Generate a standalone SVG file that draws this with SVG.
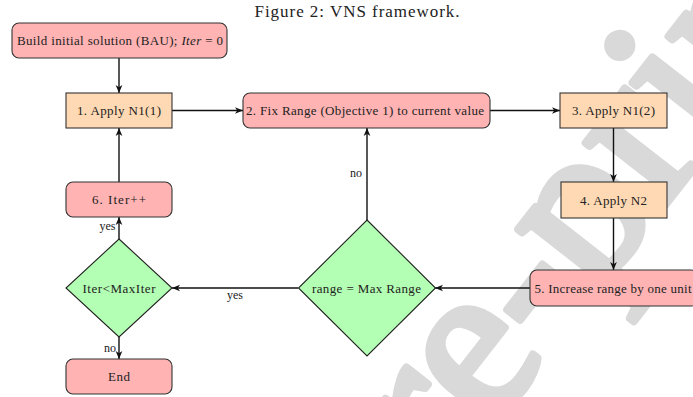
<svg xmlns="http://www.w3.org/2000/svg" width="693" height="397" viewBox="0 0 693 397">
<style>
.t{font-family:"Liberation Serif","Times New Roman",serif;fill:#222;text-anchor:middle}
.n{font-size:13px}
.lbl{font-family:"Liberation Serif","Times New Roman",serif;font-size:12px;fill:#222}
.red{fill:#ffb3b3;stroke:#333;stroke-width:1.1}
.org{fill:#ffd9b3;stroke:#333;stroke-width:1.1}
.grn{fill:#b3ffb3;stroke:#222;stroke-width:1.1}
.c{fill:none;stroke:#111;stroke-width:1.4;marker-end:url(#arr)}
.wm{font-family:"Liberation Serif","Times New Roman",serif;font-size:220px;fill:#d9d9d9;stroke:#d9d9d9;stroke-width:8;stroke-linejoin:round}
</style>
<defs>
<marker id="arr" viewBox="0 0 10 10" refX="10" refY="5" markerWidth="8" markerHeight="8" markerUnits="userSpaceOnUse" orient="auto">
<path d="M0,0.8 L10,5 L0,9.2 L2.8,5 Z" fill="#111"/>
</marker>
</defs>
<rect width="693" height="397" fill="#fff"/>
<text id="watermark" class="wm" transform="translate(369,584) rotate(-52)">Pre-print</text>
<text class="t" x="357" y="17" font-size="17" textLength="205" lengthAdjust="spacing">Figure 2: VNS framework.</text>
<g id="connectors">
<path class="c" d="M119,58 L119,93"/>
<path class="c" d="M172,110.5 L243,110.5"/>
<path class="c" d="M490,110.5 L560,110.5"/>
<path class="c" d="M613.5,128 L613.5,182"/>
<path class="c" d="M613.5,218 L613.5,270"/>
<path class="c" d="M530,288 L435,288"/>
<path class="c" d="M367,220 L367,128"/>
<path class="c" d="M298,288 L172,288"/>
<path class="c" d="M119,239 L119,217"/>
<path class="c" d="M119,182 L119,128"/>
<path class="c" d="M119,337 L119,359"/>
<text class="lbl" x="362" y="177" text-anchor="end">no</text>
<text class="lbl" x="235" y="299" text-anchor="middle">yes</text>
<text class="lbl" x="115.5" y="230" text-anchor="end">yes</text>
<text class="lbl" x="116" y="352" text-anchor="end">no</text>
</g>
<g id="build">
<rect class="red" x="12" y="23" width="215" height="35" rx="7"/>
<text class="t n" x="120" y="45" textLength="206" lengthAdjust="spacing">Build initial solution (BAU); <tspan font-style="italic">Iter</tspan> = 0</text>
</g>
<g id="n1">
<rect class="org" x="66" y="93" width="106" height="35"/>
<text class="t n" x="119" y="115" textLength="84" lengthAdjust="spacing">1. Apply N1(1)</text>
</g>
<g id="fix">
<rect class="red" x="243" y="93" width="247" height="35" rx="7"/>
<text class="t n" x="365" y="115" textLength="238" lengthAdjust="spacing">2. Fix Range (Objective 1) to current value</text>
</g>
<g id="n12">
<rect class="org" x="560" y="93" width="107" height="35"/>
<text class="t n" x="613.5" y="115" textLength="83" lengthAdjust="spacing">3. Apply N1(2)</text>
</g>
<g id="n2">
<rect class="org" x="561" y="182" width="106" height="36"/>
<text class="t n" x="613.5" y="204.5" textLength="67" lengthAdjust="spacing">4. Apply N2</text>
</g>
<g id="inc">
<rect class="red" x="530" y="270" width="168" height="36" rx="7"/>
<text class="t n" x="613" y="292.5" textLength="157" lengthAdjust="spacing">5. Increase range by one unit</text>
</g>
<g id="range">
<polygon class="grn" points="367,220 435.5,288 367,356 298.5,288"/>
<text class="t n" x="366.5" y="292.5" textLength="109" lengthAdjust="spacing">range = Max Range</text>
</g>
<g id="iter">
<polygon class="grn" points="119,239 172,288 119,337 66,288"/>
<text class="t n" x="119" y="292.5" textLength="73" lengthAdjust="spacing">Iter&lt;MaxIter</text>
</g>
<g id="inc6">
<rect class="red" x="66" y="182" width="106" height="35" rx="7"/>
<text class="t n" x="119" y="204" textLength="54" lengthAdjust="spacing">6. Iter++</text>
</g>
<g id="end">
<rect class="red" x="66" y="359" width="106" height="35" rx="7"/>
<text class="t n" x="119" y="381" textLength="22" lengthAdjust="spacing">End</text>
</g>
</svg>
